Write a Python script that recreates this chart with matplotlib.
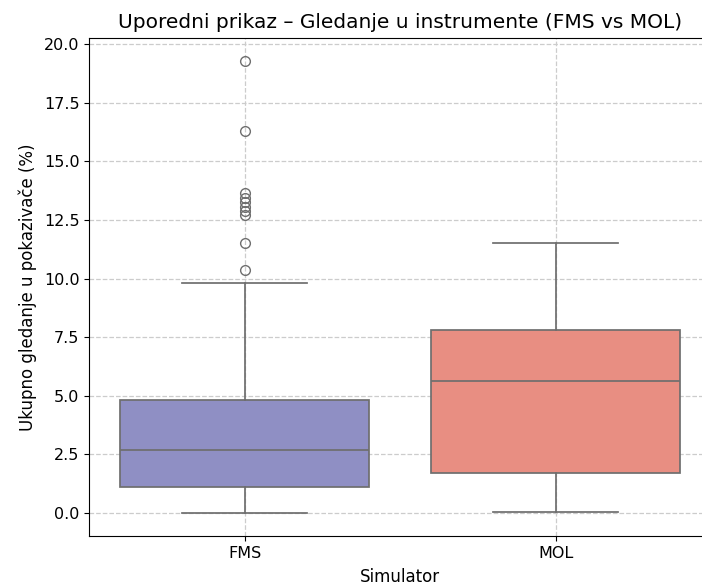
import matplotlib
matplotlib.use("Agg")
import matplotlib.pyplot as plt

# values (percent)
simulators = ["FMS", "MOL"]
whisker_low = [0.0, 0.05]
q1 = [1.11, 1.71]
medians = [2.69, 5.63]
q3 = [4.82, 7.80]
whisker_high = [9.81, 11.51]
fms_outliers = [10.36, 11.51, 12.71, 12.88, 13.05, 13.26, 13.43, 13.65, 16.29, 19.27]
mol_outliers = []
outliers = [fms_outliers, mol_outliers]
box_colors = ["#8f8fc4", "#e88e82"]

stats = []
for i, name in enumerate(simulators):
    stats.append({
        "label": name,
        "whislo": whisker_low[i],
        "q1": q1[i],
        "med": medians[i],
        "q3": q3[i],
        "whishi": whisker_high[i],
        "fliers": outliers[i],
    })

fig = plt.figure(figsize=(7.02, 5.87), dpi=100)
ax = fig.add_axes([0.127, 0.087, 0.886, 0.848])

line_col = "#6e6e6e"
bp = ax.bxp(
    stats,
    positions=range(len(simulators)),
    widths=0.8,
    patch_artist=True,
    showfliers=True,
    boxprops=dict(edgecolor=line_col, linewidth=1.25),
    medianprops=dict(color=line_col, linewidth=1.25),
    whiskerprops=dict(color=line_col, linewidth=1.25),
    capprops=dict(color=line_col, linewidth=1.25),
    flierprops=dict(marker="o", markersize=7, markerfacecolor="none",
                    markeredgecolor=line_col, markeredgewidth=1.0),
    capwidths=0.4,
)
for patch, c in zip(bp["boxes"], box_colors):
    patch.set_facecolor(c)

ax.set_xlim(-0.5, 1.5)
ax.set_ylim(-0.98, 20.26)
ax.set_yticks([0, 2.5, 5, 7.5, 10, 12.5, 15, 17.5, 20])
ax.set_yticklabels(["0.0", "2.5", "5.0", "7.5", "10.0", "12.5", "15.0", "17.5", "20.0"])
ax.set_xticks(range(len(simulators)))
ax.set_xticklabels(simulators)
ax.tick_params(labelsize=11.5)
ax.grid(True, linestyle="--", color="#cccccc", linewidth=0.9)
ax.set_axisbelow(True)

ax.set_title("Uporedni prikaz – Gledanje u instrumente (FMS vs MOL)", fontsize=14.5, pad=7)
ax.set_ylabel("Ukupno gledanje u pokazivače (%)", fontsize=12, labelpad=5)
ax.set_xlabel("Simulator", fontsize=12, labelpad=5)

fig.savefig("out.png", dpi=100)
